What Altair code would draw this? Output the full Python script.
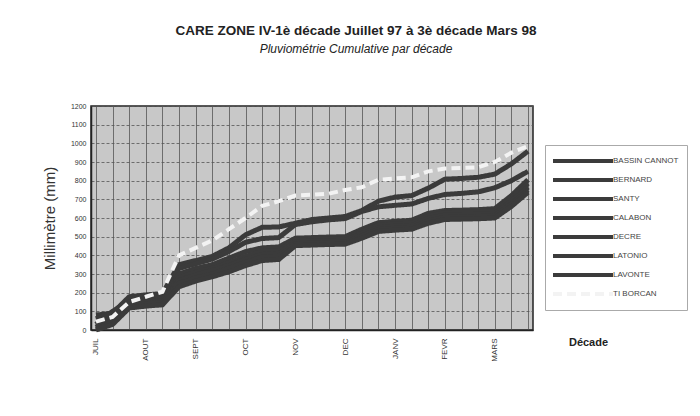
import altair as alt
import pandas as pd

# ---- data ----
months = ["JUIL", "AOUT", "SEPT", "OCT", "NOV", "DEC", "JANV", "FEVR", "MARS"]
decade_nums = ["1", "2", "3"]
decades = [m + " " + d for m in months for d in decade_nums]  # 27 décades

stations = ["BASSIN CANNOT", "BERNARD", "SANTY", "CALABON",
            "DECRE", "LATONIO", "LAVONTE", "TI BORCAN"]

bassin_cannot = [80, 90, 178, 188, 195, 350, 372, 395, 440, 510, 550, 552, 572, 592,
                 600, 608, 640, 690, 712, 720, 760, 808, 812, 818, 835, 890, 958]
bernard = [60, 95, 165, 180, 188, 330, 355, 380, 420, 470, 490, 495, 565, 580,
           590, 597, 635, 660, 668, 675, 705, 726, 732, 740, 762, 800, 850]
santy = [30, 100, 150, 165, 172, 300, 330, 350, 385, 420, 440, 445, 492, 495,
         498, 500, 540, 575, 582, 588, 625, 640, 642, 645, 650, 720, 805]
calabon = [15, 70, 145, 158, 165, 280, 310, 330, 360, 395, 420, 425, 482, 485,
           488, 490, 528, 560, 568, 572, 610, 628, 630, 633, 638, 705, 785]
decre = [50, 55, 138, 150, 158, 265, 295, 318, 345, 378, 405, 410, 472, 476,
         478, 480, 518, 548, 556, 560, 598, 615, 618, 620, 625, 690, 765]
latonio = [5, 40, 130, 140, 148, 250, 278, 300, 330, 362, 390, 395, 462, 465,
           468, 470, 505, 538, 545, 550, 585, 603, 605, 608, 612, 675, 750]
lavonte = [0, 30, 118, 128, 135, 232, 262, 285, 312, 345, 372, 378, 452, 455,
           458, 460, 492, 528, 535, 540, 572, 592, 594, 596, 600, 662, 738]
ti_borcan = [45, 70, 150, 178, 205, 400, 440, 480, 540, 600, 665, 690, 720, 725,
             730, 750, 765, 805, 812, 818, 850, 865, 868, 872, 900, 950, 985]

series = [bassin_cannot, bernard, santy, calabon, decre, latonio, lavonte, ti_borcan]

rows = []
for name, vals in zip(stations, series):
    for d, v in zip(decades, vals):
        rows.append({"station": name, "decade": d, "mm": v})
df = pd.DataFrame(rows)

dark = "#3b3b3b"
light = "#f3f3f3"
FONT = "Liberation Sans"

x_enc = alt.X(
    "decade:O", sort=decades,
    scale=alt.Scale(type="point", padding=0.3),
    axis=alt.Axis(
        title="Décade", titleX=497, titleY=12, titleAlign="center",
        titleBaseline="middle", titleFontSize=11, titleFontWeight="bold",
        titleFont=FONT, titleColor="#222",
        labelExpr="substring(datum.label, length(datum.label) - 1) == '1' ? split(datum.label, ' ')[0] : ''",
        labelAngle=270, labelFontSize=8, labelFont=FONT, labelColor="#333",
        labelPadding=8, ticks=False, domainColor="#222", domainWidth=1.5,
        grid=True, gridColor="#555", gridWidth=0.8, labelOverlap=False,
    ),
)
y_enc = alt.Y(
    "mm:Q", scale=alt.Scale(domain=[0, 1200], nice=False),
    axis=alt.Axis(
        title="Millimètre (mm)", titleFontSize=15, titleFont=FONT,
        titleFontWeight="normal", titleColor="#333", titlePadding=13,
        values=list(range(0, 1300, 100)), format="d", labelFontSize=7,
        labelFont=FONT, labelColor="#333", labelPadding=5, ticks=False,
        domainColor="#222", domainWidth=1.5, grid=True, gridColor="#555",
        gridWidth=0.8, gridDash=[3, 2],
    ),
)
color_enc = alt.Color(
    "station:N", sort=stations,
    scale=alt.Scale(domain=stations, range=[dark] * 7 + [light]),
    legend=alt.Legend(
        title=None, orient="none", legendX=454, legendY=39,
        symbolType="M-1.33,0H8.67", symbolSize=144, symbolStrokeWidth=4,
        labelOffset=44, labelFontSize=8, labelFont=FONT, labelColor="#444",
        rowPadding=3, padding=8, strokeColor="#aaa", fillColor="white",
        labelLimit=200,
    ),
)
dash_enc = alt.StrokeDash(
    "station:N", sort=stations,
    scale=alt.Scale(domain=stations, range=[[1, 0]] * 7 + [[9, 5]]),
    legend=None,
)

base = alt.Chart(df)
dark_lines = base.transform_filter(alt.datum.station != "TI BORCAN").mark_line(
    strokeWidth=5).encode(x=x_enc, y=y_enc, color=color_enc, strokeDash=dash_enc)
white_line = base.transform_filter(alt.datum.station == "TI BORCAN").mark_line(
    strokeWidth=4).encode(x=x_enc, y=y_enc, color=color_enc, strokeDash=dash_enc)

chart = alt.layer(dark_lines, white_line).properties(
    width=442, height=224,
    background="white",
    autosize=alt.AutoSizeParams(type="none"),
    padding={"left": 83, "top": 98, "right": 159, "bottom": 78},
    title=alt.Title(
        text="CARE ZONE IV-1è décade Juillet 97 à 3è décade Mars 98",
        subtitle="Pluviométrie  Cumulative par décade",
        font=FONT, fontSize=13.5, fontWeight="bold", color="#222",
        subtitleFont=FONT, subtitleFontSize=12, subtitleFontStyle="italic",
        subtitleColor="#222", subtitlePadding=7, anchor="middle", dx=44,
        offset=47,
    ),
).configure_view(
    fill="#c8c8c8", stroke="#222", strokeWidth=1.5,
)

chart.save("out.html", embed_options={"renderer": "svg", "actions": False})
